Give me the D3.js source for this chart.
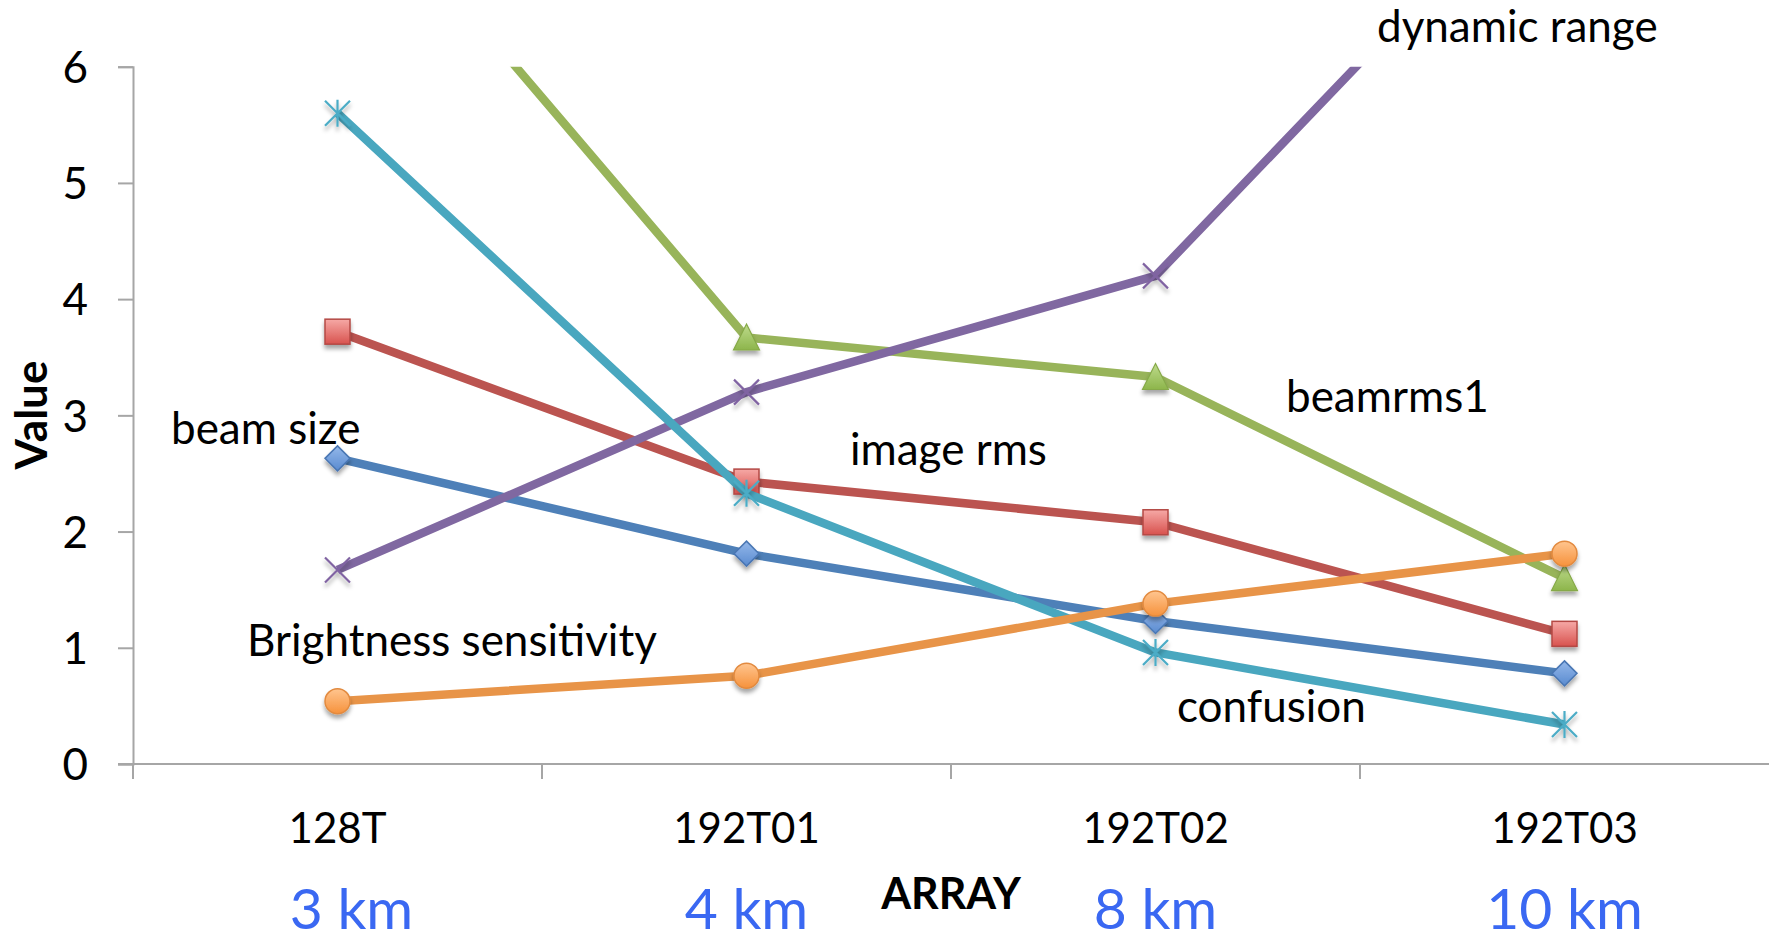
<!DOCTYPE html>
<html>
<head>
<meta charset="utf-8">
<script src="https://cdn.jsdelivr.net/npm/d3@7"></script>
<style>
  html, body { margin: 0; padding: 0; background: #ffffff; }
  svg { display: block; }
  text { font-family: Lato, "Open Sans", "DejaVu Sans", sans-serif; }
</style>
</head>
<body>
<svg id="chart" width="1769" height="940"></svg>
<script>
// ---- data ----
const categories = ["128T", "192T01", "192T02", "192T03"];
const distances = ["3 km", "4 km", "8 km", "10 km"];
const yTicks = [0, 1, 2, 3, 4, 5, 6];

const beamSize     = [2.63, 1.81, 1.23, 0.78];
const imageRms     = [3.72, 2.43, 2.08, 1.12];
const beamrms1     = [7.80, 3.67, 3.33, 1.60];
const dynamicRange = [1.67, 3.20, 4.20, 7.87];
const confusion    = [5.60, 2.33, 0.96, 0.34];
const brightness   = [0.54, 0.76, 1.38, 1.81];

const seriesNames = ["beam size", "image rms", "beamrms1", "dynamic range", "confusion", "Brightness sensitivity"];
const seriesValues = [beamSize, imageRms, beamrms1, dynamicRange, confusion, brightness];

// ---- styling ----
const styles = [
  { line: "#4e80b8", marker: "diamond",  light: "#94b8ea", dark: "#5a8bd0", edge: "#4a77b4" },
  { line: "#bb5450", marker: "square",   light: "#f6a9a6", dark: "#d8524e", edge: "#b44945" },
  { line: "#98b45a", marker: "triangle", light: "#bedb8c", dark: "#8db54b", edge: "#86a948" },
  { line: "#8068a1", marker: "x",        light: "#8064a2", dark: "#8064a2", edge: "#8064a2" },
  { line: "#49a7bf", marker: "star",     light: "#4bacc6", dark: "#4bacc6", edge: "#4bacc6" },
  { line: "#e89448", marker: "circle",   light: "#ffc58f", dark: "#f6923c", edge: "#e28a3f" }
];

// label placement (pixel anchors, left/baseline)
const annotationLayout = [
  { x: 171,  y: 444 },
  { x: 850,  y: 465 },
  { x: 1286, y: 412 },
  { x: 1377, y: 42 },
  { x: 1177, y: 722 },
  { x: 247,  y: 656 }
];

const plot = { left: 133, right: 1769, top: 66.7, bottom: 764 };

const svg = d3.select("#chart");
const defs = svg.append("defs");

defs.append("clipPath").attr("id", "plotClip")
  .append("rect")
  .attr("x", plot.left).attr("y", plot.top)
  .attr("width", plot.right - plot.left).attr("height", plot.bottom - plot.top + 20);

const shadow = defs.append("filter").attr("id", "markerShadow")
  .attr("x", "-50%").attr("y", "-50%").attr("width", "200%").attr("height", "200%");
shadow.append("feDropShadow")
  .attr("dx", 0).attr("dy", 4).attr("stdDeviation", 2.2)
  .attr("flood-color", "#000").attr("flood-opacity", 0.35);

styles.forEach((s, i) => {
  const g = defs.append("linearGradient").attr("id", "grad" + i)
    .attr("x1", 0).attr("y1", 0).attr("x2", 0).attr("y2", 1);
  g.append("stop").attr("offset", "0%").attr("stop-color", s.light);
  g.append("stop").attr("offset", "100%").attr("stop-color", s.dark);
});

// ---- scales ----
const x = d3.scaleBand().domain(categories).range([plot.left, plot.right]).padding(0);
const xc = c => x(c) + x.bandwidth() / 2;
const y = d3.scaleLinear().domain([0, 6]).range([plot.bottom, plot.top]);

// ---- axes ----
const axisColor = "#a6a6a6";

const yAxis = svg.append("g")
  .attr("transform", `translate(${plot.left},0)`)
  .call(d3.axisLeft(y).tickValues(yTicks).tickSize(15).tickSizeOuter(15).tickPadding(30).tickFormat(d3.format("d")));
yAxis.select(".domain").attr("stroke", axisColor).attr("stroke-width", 2);
yAxis.selectAll(".tick line").attr("stroke", axisColor).attr("stroke-width", 2);
yAxis.selectAll(".tick text")
  .attr("fill", "#000").attr("font-size", 44).attr("dy", "0.36em");

const xAxis = svg.append("g")
  .attr("transform", `translate(0,${plot.bottom})`)
  .call(d3.axisBottom(x).tickSize(0).tickPadding(0).tickFormat(() => ""));
xAxis.select(".domain").remove();
xAxis.append("line")
  .attr("x1", plot.left - 15).attr("x2", plot.right)
  .attr("y1", 0).attr("y2", 0)
  .attr("stroke", axisColor).attr("stroke-width", 2);
// tick marks on band boundaries
xAxis.selectAll(".bound")
  .data(categories)
  .enter().append("line")
  .attr("class", "bound")
  .attr("x1", d => x(d)).attr("x2", d => x(d))
  .attr("y1", 0).attr("y2", 15)
  .attr("stroke", axisColor).attr("stroke-width", 2);

// category labels
svg.append("g").selectAll("text")
  .data(categories)
  .enter().append("text")
  .attr("x", d => xc(d)).attr("y", 843)
  .attr("text-anchor", "middle")
  .attr("font-size", 42).attr("fill", "#000")
  .text(d => d);

// distance labels
svg.append("g").selectAll("text")
  .data(distances)
  .enter().append("text")
  .attr("x", (d, i) => xc(categories[i]) + (i === 0 ? 14 : 0)).attr("y", 929)
  .attr("text-anchor", "middle")
  .attr("font-size", 57).attr("fill", "#3a68f2")
  .text(d => d);

// axis titles
svg.append("text")
  .attr("x", 951).attr("y", 909)
  .attr("text-anchor", "middle")
  .attr("font-size", 43).attr("font-weight", "bold").attr("fill", "#000")
  .text("ARRAY");

svg.append("text")
  .attr("transform", "translate(47,415) rotate(-90)")
  .attr("text-anchor", "middle")
  .attr("font-size", 44).attr("font-weight", "bold").attr("fill", "#000")
  .text("Value");

// ---- series ----
const line = d3.line().x((d, i) => xc(categories[i])).y(d => y(d));
const plotG = svg.append("g").attr("clip-path", "url(#plotClip)");

function drawMarker(g, s, i, cx, cy) {
  const r = 12.5;
  const m = g.append("g").attr("transform", `translate(${cx},${cy})`).attr("filter", "url(#markerShadow)");
  const fill = `url(#grad${i})`;
  if (s.marker === "square") {
    m.append("rect").attr("x", -r).attr("y", -r).attr("width", 2 * r).attr("height", 2 * r)
      .attr("fill", fill).attr("stroke", s.edge).attr("stroke-width", 1.5);
  } else if (s.marker === "diamond") {
    m.append("path").attr("d", `M0,${-r}L${r},0L0,${r}L${-r},0Z`)
      .attr("fill", fill).attr("stroke", s.edge).attr("stroke-width", 1.5);
  } else if (s.marker === "triangle") {
    m.append("path").attr("d", `M0,${-r - 1}L${r + 0.5},${r}L${-r - 0.5},${r}Z`)
      .attr("fill", fill).attr("stroke", s.edge).attr("stroke-width", 1.2);
  } else if (s.marker === "circle") {
    m.append("circle").attr("r", r)
      .attr("fill", fill).attr("stroke", s.edge).attr("stroke-width", 1.5);
  } else if (s.marker === "x") {
    m.append("path").attr("d", `M${-r},${-r}L${r},${r}M${r},${-r}L${-r},${r}`)
      .attr("stroke", s.edge).attr("stroke-width", 2.2).attr("fill", "none");
  } else if (s.marker === "star") {
    m.append("path").attr("d", `M${-r},${-r}L${r},${r}M${r},${-r}L${-r},${r}M0,${-r - 1}L0,${r + 1}`)
      .attr("stroke", s.edge).attr("stroke-width", 2.2).attr("fill", "none");
  }
}

seriesValues.forEach((vals, i) => {
  const s = styles[i];
  const g = plotG.append("g");
  g.append("path")
    .datum(vals)
    .attr("d", line)
    .attr("fill", "none")
    .attr("stroke", s.line)
    .attr("stroke-width", 8.5)
    .attr("stroke-linejoin", "round");
  vals.forEach((v, j) => {
    if (v <= 6) drawMarker(g, s, i, xc(categories[j]), y(v));
  });
});

// series labels
svg.append("g").selectAll("text")
  .data(seriesNames)
  .enter().append("text")
  .attr("x", (d, i) => annotationLayout[i].x)
  .attr("y", (d, i) => annotationLayout[i].y)
  .attr("font-size", 44).attr("fill", "#000")
  .text(d => d);
</script>
</body>
</html>
